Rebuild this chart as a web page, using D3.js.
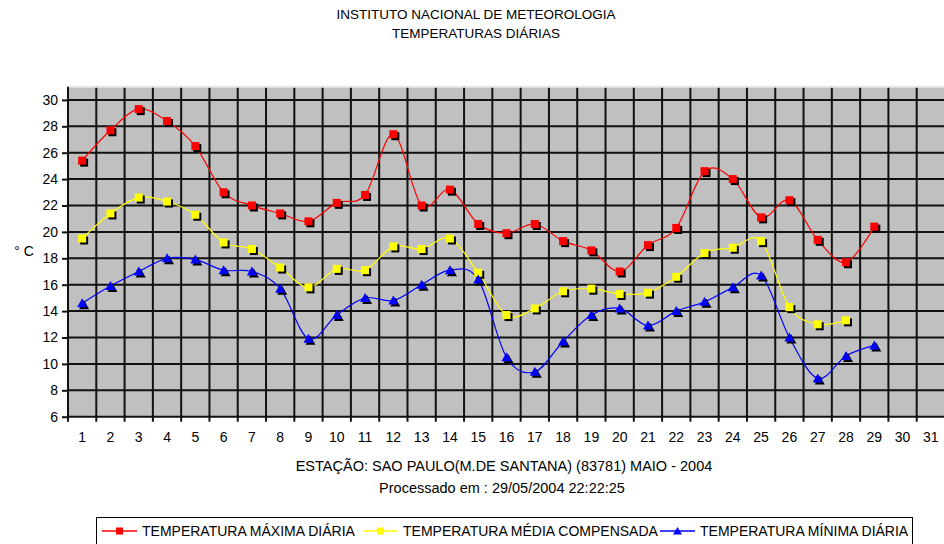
<!DOCTYPE html>
<html>
<head>
<meta charset="utf-8">
<script src="https://cdn.jsdelivr.net/npm/d3@7"></script>
<style>
  body { margin: 0; background: #fff; }
  text { font-family: "Liberation Sans", Arial, sans-serif; fill: #000; }
</style>
</head>
<body>
<svg id="chart" width="944" height="544"></svg>
<script>
// dias do mes
var days = d3.range(1, 32);
var yTicks = [6, 8, 10, 12, 14, 16, 18, 20, 22, 24, 26, 28, 30];

var tMax = [25.4, 27.7, 29.3, 28.4, 26.5, 23.0, 22.0, 21.4, 20.8, 22.2, 22.8, 27.4, 22.0, 23.2, 20.6,
  19.9, 20.6, 19.3, 18.6, 17.0, 19.0, 20.3, 24.6, 24.0, 21.1, 22.4, 19.4, 17.7, 20.4];
var tMed = [19.5, 21.4, 22.6, 22.3, 21.3, 19.2, 18.7, 17.3, 15.8, 17.2, 17.1, 18.9, 18.7, 19.5, 16.9,
  13.7, 14.2, 15.5, 15.7, 15.3, 15.4, 16.6, 18.4, 18.8, 19.3, 14.3, 13.0, 13.3];
var tMin = [14.6, 15.9, 17.0, 18.0, 17.9, 17.1, 17.0, 15.7, 11.9, 13.7, 15.0, 14.8, 16.0, 17.1, 16.4,
  10.5, 9.4, 11.7, 13.7, 14.2, 12.9, 14.0, 14.7, 15.8, 16.7, 12.0, 8.9, 10.6, 11.4];

var series = [
  { name: "TEMPERATURA MÁXIMA DIÁRIA", values: tMax, color: "#ff0000", shape: "square" },
  { name: "TEMPERATURA MÉDIA COMPENSADA", values: tMed, color: "#ffff00", shape: "square" },
  { name: "TEMPERATURA MÍNIMA DIÁRIA", values: tMin, color: "#0000ff", shape: "triangle" }
];

var svg = d3.select("#chart");

var x = d3.scaleBand().domain(days).range([68, 945]);
var y = d3.scaleLinear().domain([6, 31]).range([416.7, 86.7]);

// titulo
svg.append("text").attr("x", 476).attr("y", 19).attr("text-anchor", "middle")
  .style("font-size", "13.5px").text("INSTITUTO NACIONAL DE METEOROLOGIA");
svg.append("text").attr("x", 476).attr("y", 38).attr("text-anchor", "middle")
  .style("font-size", "13.5px").text("TEMPERATURAS DIÁRIAS");

// area do grafico
svg.append("rect")
  .attr("x", x.range()[0]).attr("y", y(31))
  .attr("width", x.range()[1] - x.range()[0]).attr("height", y(6) - y(31))
  .attr("fill", "#c0c0c0");

var grid = svg.append("g");
grid.selectAll("line.h").data(yTicks.slice(1)).enter().append("line")
  .attr("x1", x.range()[0]).attr("x2", x.range()[1])
  .attr("y1", function(d) { return y(d); }).attr("y2", function(d) { return y(d); })
  .attr("stroke", "#111").attr("stroke-width", 2);
grid.selectAll("line.v").data(days).enter().append("line")
  .attr("x1", function(d) { return x(d) + x.bandwidth(); })
  .attr("x2", function(d) { return x(d) + x.bandwidth(); })
  .attr("y1", y(31)).attr("y2", y(6))
  .attr("stroke", "#111").attr("stroke-width", 2);

// borda superior clara
svg.append("line").attr("x1", x.range()[0]).attr("x2", x.range()[1])
  .attr("y1", y(31)).attr("y2", y(31)).attr("stroke", "#e8e8e8").attr("stroke-width", 2);

// eixos
var yAxis = svg.append("g").attr("transform", "translate(" + x.range()[0] + ",0)")
  .call(d3.axisLeft(y).tickValues(yTicks).tickSize(6).tickPadding(4));
yAxis.select(".domain").attr("stroke", "#111").attr("stroke-width", 2)
  .attr("d", "M0," + y(31) + "V" + y(6));
yAxis.selectAll(".tick line").attr("stroke", "#111").attr("stroke-width", 2);
yAxis.selectAll("text").style("font-size", "14px").style("font-family", "Liberation Sans, Arial, sans-serif");

var xAxis = svg.append("g").attr("transform", "translate(0," + y(6) + ")")
  .call(d3.axisBottom(x).tickSize(0).tickPadding(15));
xAxis.select(".domain").attr("stroke", "#111").attr("stroke-width", 2)
  .attr("d", "M" + x.range()[0] + ",0H" + x.range()[1]);
xAxis.selectAll("text").style("font-size", "14px").style("font-family", "Liberation Sans, Arial, sans-serif");
svg.append("g").selectAll("line").data([0].concat(days)).enter().append("line")
  .attr("x1", function(d) { return d === 0 ? x.range()[0] : x(d) + x.bandwidth(); })
  .attr("x2", function(d) { return d === 0 ? x.range()[0] : x(d) + x.bandwidth(); })
  .attr("y1", y(6)).attr("y2", y(6) + 5)
  .attr("stroke", "#111").attr("stroke-width", 2);

svg.append("text").attr("x", 24).attr("y", 256).attr("text-anchor", "middle")
  .style("font-size", "14px").text("° C");

// series
var cx = function(i) { return x(days[i]) + x.bandwidth() / 2; };
var line = d3.line()
  .x(function(d, i) { return cx(i); })
  .y(function(d) { return y(d); })
  .curve(d3.curveCardinal.tension(0));

function marker(g, shape, color, px, py, s) {
  if (shape === "square") {
    g.append("rect").attr("x", px - s / 2 + 2).attr("y", py - s / 2 + 2)
      .attr("width", s).attr("height", s).attr("fill", "#000");
    g.append("rect").attr("x", px - s / 2).attr("y", py - s / 2)
      .attr("width", s).attr("height", s).attr("fill", color);
  } else {
    var tri = function(ox, oy) {
      return "M" + (px + ox) + "," + (py - s / 2 - 1 + oy) +
        "L" + (px + s / 2 + 1 + ox) + "," + (py + s / 2 + oy) +
        "L" + (px - s / 2 - 1 + ox) + "," + (py + s / 2 + oy) + "Z";
    };
    g.append("path").attr("d", tri(2, 2)).attr("fill", "#000");
    g.append("path").attr("d", tri(0, 0)).attr("fill", color);
  }
}

series.forEach(function(s) {
  svg.append("path").datum(s.values)
    .attr("d", line)
    .attr("fill", "none").attr("stroke", s.color).attr("stroke-width", 1.2);
});
series.forEach(function(s) {
  var g = svg.append("g");
  s.values.forEach(function(v, i) {
    marker(g, s.shape, s.color, cx(i), y(v), 8);
  });
});

// rodape
svg.append("text").attr("x", 504).attr("y", 471).attr("text-anchor", "middle")
  .style("font-size", "14.5px").text("ESTAÇÃO: SAO PAULO(M.DE SANTANA) (83781) MAIO - 2004");
svg.append("text").attr("x", 502).attr("y", 493).attr("text-anchor", "middle")
  .style("font-size", "14.5px").text("Processado em : 29/05/2004 22:22:25");

// legenda
svg.append("rect").attr("x", 96.5).attr("y", 517.5).attr("width", 816).attr("height", 40)
  .attr("fill", "#fff").attr("stroke", "#000");
var legX = [102, 363, 660];
series.forEach(function(s, i) {
  var g = svg.append("g").attr("transform", "translate(" + legX[i] + ",531)");
  g.append("line").attr("x1", 0).attr("x2", 35).attr("y1", 0).attr("y2", 0)
    .attr("stroke", s.color).attr("stroke-width", 1.5);
  if (s.shape === "square") {
    g.append("rect").attr("x", 14).attr("y", -3.5).attr("width", 7).attr("height", 7).attr("fill", s.color);
  } else {
    g.append("path").attr("d", "M17.5,-4L22,3.5L13,3.5Z").attr("fill", s.color);
  }
  g.append("text").attr("x", 40).attr("y", 5)
    .style("font-size", "14px").text(s.name);
});
</script>
</body>
</html>
